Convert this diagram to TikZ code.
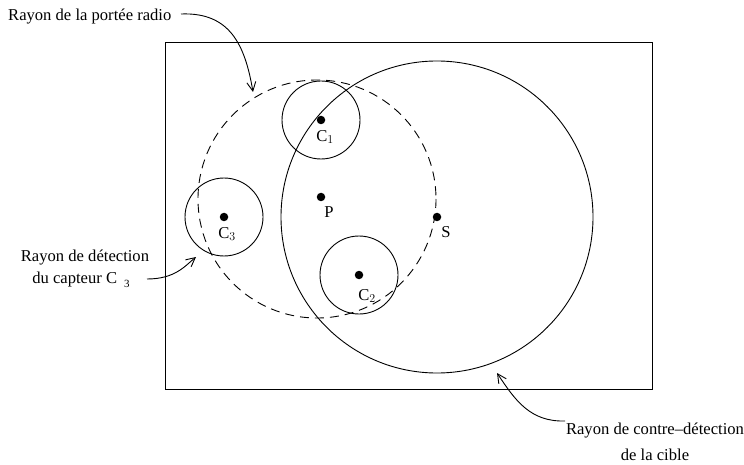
\documentclass[tikz,border=0pt]{standalone}
\usepackage{fontspec}
\setmainfont{Liberation Serif}
\usetikzlibrary{arrows.meta}
\begin{document}
\begin{tikzpicture}[x=1pt,y=-1pt,
  lbl/.style={font=\fontsize{16.6}{19}\selectfont, inner sep=0pt},
  dot/.style={circle, fill=black, inner sep=0pt, minimum size=8.5pt},
  ring/.style={draw, line width=0.9pt},
  ptr/.style={draw, line width=0.9pt, -{Straight Barb[length=9pt,width=9pt]}}]
\useasboundingbox (0,0) rectangle (744,465);
\draw[line width=0.9pt] (165,42) rectangle (652,389);
% dashed radio range
\draw[ring, dashed, dash pattern=on 9pt off 6pt] (317,199) circle (119);
% big counter-detection circle
\draw[ring] (437,217) circle (156);
% sensor detection circles
\draw[ring] (321,120) circle (39);
\draw[ring] (359,275) circle (39);
\draw[ring] (224,217) circle (39);
% points
\node[dot] (c1) at (321,120) {};
\node[dot] (p) at (321,197) {};
\node[dot] (s) at (437,217) {};
\node[dot] (c2) at (359,275) {};
\node[dot] (c3) at (224,217) {};
\node[lbl] (lc1) at (325,137) {C$_{1}$};
\node[lbl] (lp) at (329,212) {P};
\node[lbl] (ls) at (446,232) {S};
\node[lbl] (lc2) at (367,296) {C$_{2}$};
\node[lbl] (lc3) at (227,234) {C$_{3}$};
% annotations
\node[lbl, anchor=west] (t1) at (8,17) {Rayon de la portée radio};
\node[lbl, align=center] (t2) at (85,258) {Rayon de détection};
\node[lbl] (t3) at (81,280) {du capteur C\hspace{7pt}\raisebox{-4pt}{\fontsize{11}{12}\selectfont 3}};
\node[lbl] (t4) at (655,431) {Rayon de contre\textendash détection};
\node[lbl] (t5) at (655,455) {de la cible};
\coordinate (a1s) at (181,14);
\coordinate (a1e) at (253,92);
\coordinate (a2s) at (147,279);
\coordinate (a2e) at (196,257);
\coordinate (a3s) at (565,421);
\coordinate (a3e) at (497,373);
\draw[ptr] (a1s) .. controls (230,12) and (245,45) .. (a1e);
\draw[ptr] (a2s) .. controls (175,279) and (185,266) .. (a2e);
\draw[ptr] (a3s) .. controls (530,422) and (515,400) .. (a3e);
\end{tikzpicture}
\end{document}
